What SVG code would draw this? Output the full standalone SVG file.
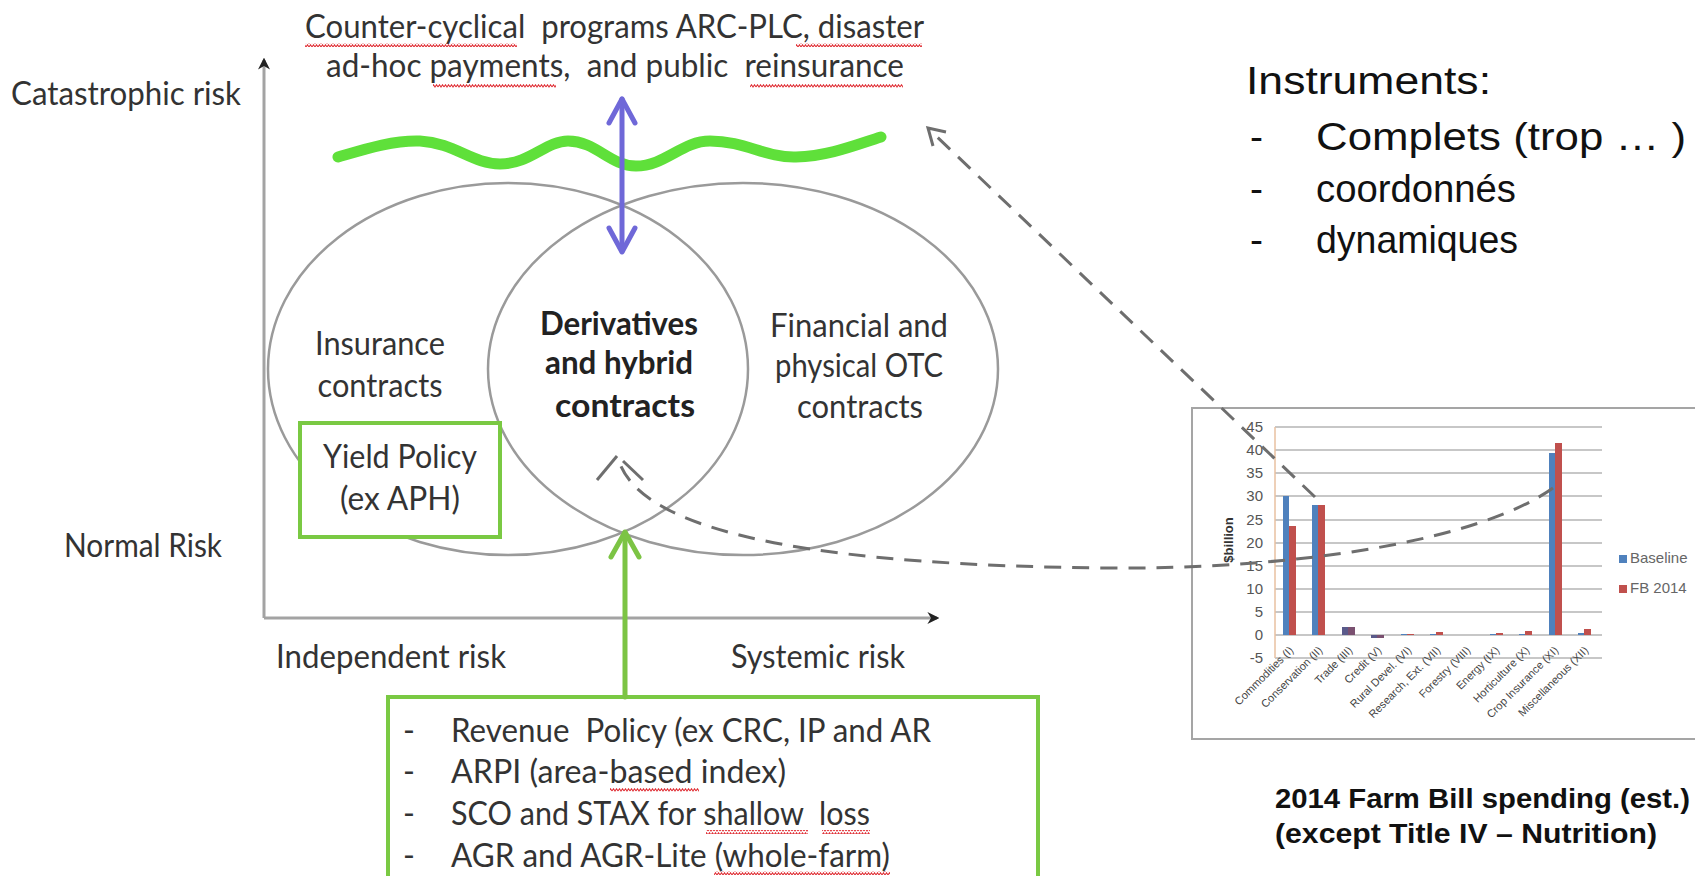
<svg xmlns="http://www.w3.org/2000/svg" width="1695" height="876" viewBox="0 0 1695 876">
<defs>
<style>
.lbl{font-family:"Lato","Carlito","Noto Sans",sans-serif;font-size:32px;fill:#333;white-space:pre}
.bold{font-weight:bold;fill:#222}
.ell{fill:none;stroke:#9a9a9a;stroke-width:2.5}
.axis{stroke:#a3a3a3;stroke-width:3;fill:none}
.gbox{fill:#fff;stroke:#7ac943;stroke-width:4}
.dash{fill:none;stroke:#6e6e6e;stroke-width:3;stroke-dasharray:17 11}
.chev{fill:none;stroke:#6e6e6e;stroke-width:3}
.ar{font-family:"Liberation Sans",Arial,sans-serif;fill:#111}
.grid{stroke:#b5b5b5;stroke-width:1.5}
.tick{font-family:"Liberation Sans",Arial,sans-serif;font-size:15px;fill:#555;text-anchor:end}
.cat{font-family:"Liberation Sans",Arial,sans-serif;font-size:11px;fill:#444;text-anchor:end}
.sq{fill:url(#squig);stroke:none}
</style>
<pattern id="squig" x="0" y="0" width="6" height="4" patternUnits="userSpaceOnUse">
<path d="M0,3 L1.5,0.8 L3,3 L4.5,0.8 L6,3" fill="none" stroke="#e0343a" stroke-width="1.1"/>
</pattern>
<marker id="ah" viewBox="0 0 10 10" refX="8" refY="5" markerWidth="4" markerHeight="4" orient="auto-start-reverse">
<path d="M0,0 L10,5 L0,10 L3,5 Z" fill="#222"/>
</marker>
</defs>
<rect width="1695" height="876" fill="#fff"/>

<g id="chart">
<rect x="1192" y="408" width="530" height="331" fill="#fff" stroke="#a5a5a5" stroke-width="2"/>
<g>
<line class="grid" x1="1275" y1="427" x2="1602" y2="427"/>
<line class="grid" x1="1275" y1="450" x2="1602" y2="450"/>
<line class="grid" x1="1275" y1="473" x2="1602" y2="473"/>
<line class="grid" x1="1275" y1="496" x2="1602" y2="496"/>
<line class="grid" x1="1275" y1="520" x2="1602" y2="520"/>
<line class="grid" x1="1275" y1="543" x2="1602" y2="543"/>
<line class="grid" x1="1275" y1="566" x2="1602" y2="566"/>
<line class="grid" x1="1275" y1="589" x2="1602" y2="589"/>
<line class="grid" x1="1275" y1="612" x2="1602" y2="612"/>
<line class="grid" x1="1275" y1="635" x2="1602" y2="635"/>
<line class="grid" x1="1275" y1="658" x2="1602" y2="658"/>
<line x1="1275" y1="427" x2="1275" y2="658" stroke="#e8c0a0" stroke-width="1.5"/>
</g>
<g>
<text class="tick" x="1263" y="432">45</text>
<text class="tick" x="1263" y="455">40</text>
<text class="tick" x="1263" y="478">35</text>
<text class="tick" x="1263" y="501">30</text>
<text class="tick" x="1263" y="525">25</text>
<text class="tick" x="1263" y="548">20</text>
<text class="tick" x="1263" y="571">15</text>
<text class="tick" x="1263" y="594">10</text>
<text class="tick" x="1263" y="617">5</text>
<text class="tick" x="1263" y="640">0</text>
<text class="tick" x="1263" y="663">-5</text>
<text x="1233" y="540" transform="rotate(-90 1233 540)" text-anchor="middle" font-family="Liberation Sans,Arial,sans-serif" font-size="13" font-weight="bold" fill="#333">$billion</text>
</g>
<g id="bars">
<rect x="1283" y="496" width="6" height="139" fill="#4f81bd"/>
<rect x="1289" y="526" width="7" height="109" fill="#c0504d"/>
<rect x="1312" y="505" width="6" height="130" fill="#4f81bd"/>
<rect x="1318" y="505" width="7" height="130" fill="#c0504d"/>
<rect x="1342" y="627" width="6" height="8" fill="#5a5a8a"/>
<rect x="1348" y="627" width="7" height="8" fill="#7a5070"/>
<rect x="1371" y="635" width="6" height="3" fill="#5a5a8a"/>
<rect x="1377" y="635" width="7" height="3" fill="#7a5070"/>
<rect x="1401" y="634" width="6" height="1" fill="#4f81bd"/>
<rect x="1407" y="634" width="7" height="1" fill="#c0504d"/>
<rect x="1430" y="634" width="6" height="1" fill="#4f81bd"/>
<rect x="1436" y="632" width="7" height="3" fill="#c0504d"/>
<rect x="1490" y="634" width="6" height="1" fill="#4f81bd"/>
<rect x="1496" y="633" width="7" height="2" fill="#c0504d"/>
<rect x="1519" y="634" width="6" height="1" fill="#4f81bd"/>
<rect x="1525" y="631" width="7" height="4" fill="#c0504d"/>
<rect x="1549" y="453" width="6" height="182" fill="#4f81bd"/>
<rect x="1555" y="443" width="7" height="192" fill="#c0504d"/>
<rect x="1578" y="633" width="6" height="2" fill="#4f81bd"/>
<rect x="1584" y="629" width="7" height="6" fill="#c0504d"/>
</g>
<g id="cats">
<text class="cat" transform="translate(1294 651) rotate(-45)">Commodities (I)</text>
<text class="cat" transform="translate(1323 651) rotate(-45)">Conservation (II)</text>
<text class="cat" transform="translate(1353 651) rotate(-45)">Trade (III)</text>
<text class="cat" transform="translate(1382 651) rotate(-45)">Credit (V)</text>
<text class="cat" transform="translate(1412 651) rotate(-45)">Rural Devel. (VI)</text>
<text class="cat" transform="translate(1441 651) rotate(-45)">Research, Ext. (VII)</text>
<text class="cat" transform="translate(1471 651) rotate(-45)">Forestry (VIII)</text>
<text class="cat" transform="translate(1500 651) rotate(-45)">Energy (IX)</text>
<text class="cat" transform="translate(1530 651) rotate(-45)">Horticulture (X)</text>
<text class="cat" transform="translate(1559 651) rotate(-45)">Crop Insurance (XI)</text>
<text class="cat" transform="translate(1589 651) rotate(-45)">Miscellaneous (XII)</text>
</g>
<g id="legend">
<rect x="1619" y="555" width="8" height="8" fill="#4f81bd"/>
<text x="1630" y="563" font-family="Liberation Sans,Arial,sans-serif" font-size="15" fill="#666">Baseline</text>
<rect x="1619" y="585" width="8" height="8" fill="#c0504d"/>
<text x="1630" y="593" font-family="Liberation Sans,Arial,sans-serif" font-size="15" fill="#666">FB 2014</text>
</g>
</g>

<g id="caption">
<text class="ar" x="1275" y="808" font-size="28" font-weight="bold" textLength="415" lengthAdjust="spacingAndGlyphs">2014 Farm Bill spending (est.)</text>
<text class="ar" x="1275" y="843" font-size="28" font-weight="bold" textLength="382" lengthAdjust="spacingAndGlyphs">(except Title IV – Nutrition)</text>
</g>

<g id="instruments">
<text class="ar" x="1246" y="94" font-size="39" textLength="245" lengthAdjust="spacingAndGlyphs">Instruments:</text>
<text class="ar" x="1250" y="150" font-size="39">-</text>
<text class="ar" x="1316" y="150" font-size="39" textLength="370" lengthAdjust="spacingAndGlyphs">Complets (trop … )</text>
<text class="ar" x="1250" y="202" font-size="39">-</text>
<text class="ar" x="1316" y="202" font-size="39" textLength="200" lengthAdjust="spacingAndGlyphs">coordonnés</text>
<text class="ar" x="1250" y="253" font-size="39">-</text>
<text class="ar" x="1316" y="253" font-size="39" textLength="202" lengthAdjust="spacingAndGlyphs">dynamiques</text>
</g>

<g id="axes">
<line class="axis" x1="264" y1="618" x2="264" y2="60" marker-end="url(#ah)"/>
<line class="axis" x1="264" y1="618" x2="937" y2="618" marker-end="url(#ah)"/>
<text class="lbl" x="11" y="105" textLength="230" lengthAdjust="spacingAndGlyphs">Catastrophic risk</text>
<text class="lbl" x="64" y="557" textLength="158" lengthAdjust="spacingAndGlyphs">Normal Risk</text>
<text class="lbl" x="276" y="668" textLength="230" lengthAdjust="spacingAndGlyphs">Independent risk</text>
<text class="lbl" x="731" y="668" textLength="174" lengthAdjust="spacingAndGlyphs">Systemic risk</text>
</g>

<g id="top-label">
<text class="lbl" x="305" y="38" textLength="619" lengthAdjust="spacingAndGlyphs">Counter-cyclical  programs ARC-PLC, disaster</text>
<text class="lbl" x="326" y="77" textLength="578" lengthAdjust="spacingAndGlyphs">ad-hoc payments,  and public  reinsurance</text>
<rect class="sq" x="305" y="43" width="212" height="4"/>
<rect class="sq" x="796" y="43" width="126" height="4"/>
<rect class="sq" x="433" y="84" width="123" height="4"/>
<rect class="sq" x="750" y="84" width="153" height="4"/>
</g>

<g id="threshold">
<path d="M338,157 C362,150 392,140 420,141 C455,143 472,164 500,164 C530,164 546,141 568,141 C596,141 610,166 636,166 C665,166 682,141 710,141 C745,141 766,158 796,157 C830,156 858,144 881,137" fill="none" stroke="#5fe03a" stroke-width="11" stroke-linecap="round"/>
</g>

<g id="venn">
<ellipse id="insurance" class="ell" cx="508" cy="369" rx="240" ry="186"/>
<ellipse id="otc" class="ell" cx="743" cy="369" rx="255" ry="186"/>
</g>

<g id="insurance-label">
<text class="lbl" x="380" y="355" text-anchor="middle" textLength="130" lengthAdjust="spacingAndGlyphs">Insurance</text>
<text class="lbl" x="380" y="397" text-anchor="middle" textLength="125" lengthAdjust="spacingAndGlyphs">contracts</text>
</g>
<g id="derivatives-label">
<text class="lbl bold" x="619" y="335" text-anchor="middle" textLength="158" lengthAdjust="spacingAndGlyphs">Derivatives</text>
<text class="lbl bold" x="619" y="374" text-anchor="middle" textLength="148" lengthAdjust="spacingAndGlyphs">and hybrid</text>
<text class="lbl bold" x="625" y="417" text-anchor="middle" textLength="140" lengthAdjust="spacingAndGlyphs">contracts</text>
</g>
<g id="otc-label">
<text class="lbl" x="859" y="337" text-anchor="middle" textLength="178" lengthAdjust="spacingAndGlyphs">Financial and</text>
<text class="lbl" x="859" y="377" text-anchor="middle" textLength="168" lengthAdjust="spacingAndGlyphs">physical OTC</text>
<text class="lbl" x="860" y="418" text-anchor="middle" textLength="126" lengthAdjust="spacingAndGlyphs">contracts</text>
</g>

<g id="yield-policy">
<rect class="gbox" x="300" y="423" width="200" height="114"/>
<text class="lbl" x="400" y="468" text-anchor="middle" textLength="154" lengthAdjust="spacingAndGlyphs">Yield Policy</text>
<text class="lbl" x="400" y="510" text-anchor="middle" textLength="120" lengthAdjust="spacingAndGlyphs">(ex APH)</text>
</g>

<g id="revenue-box">
<rect class="gbox" x="388" y="697" width="650" height="190"/>
<text class="lbl" x="403" y="742">-</text>
<text class="lbl" x="451" y="742" textLength="480" lengthAdjust="spacingAndGlyphs">Revenue  Policy (ex CRC, IP and AR</text>
<text class="lbl" x="403" y="783">-</text>
<text class="lbl" x="451" y="783" textLength="335" lengthAdjust="spacingAndGlyphs">ARPI (area-based index)</text>
<text class="lbl" x="403" y="825">-</text>
<text class="lbl" x="451" y="825" textLength="419" lengthAdjust="spacingAndGlyphs">SCO and STAX for shallow  loss</text>
<text class="lbl" x="403" y="867">-</text>
<text class="lbl" x="451" y="867" textLength="439" lengthAdjust="spacingAndGlyphs">AGR and AGR-Lite (whole-farm)</text>
<rect class="sq" x="610" y="788" width="89" height="4"/>
<rect class="sq" x="706" y="830" width="102" height="4"/>
<rect class="sq" x="822" y="830" width="48" height="4"/>
<rect class="sq" x="714" y="871" width="176" height="4"/>
</g>

<g id="connectors">
<g id="blue-arrow" stroke="#6f68d8" stroke-width="5" fill="none" stroke-linecap="round" stroke-linejoin="round">
<line x1="622" y1="99" x2="622" y2="251"/>
<polyline points="609,123 622,99 635,123"/>
<polyline points="609,228 622,252 635,228"/>
</g>
<g id="green-arrow" stroke="#7cc444" stroke-width="5" fill="none" stroke-linecap="round" stroke-linejoin="round">
<line x1="625" y1="533" x2="625" y2="697"/>
<polyline points="611,557 625,532 639,557"/>
</g>
<g id="dashed-curve">
<path class="dash" d="M1553,488 C1480,540 1300,570 1100,568 C850,565 640,540 618,458"/>
<polyline class="chev" points="597,480 617,456"/>
<polyline class="chev" points="623,461 643,480"/>
</g>
<g id="dashed-straight">
<line class="dash" x1="1315" y1="497" x2="934" y2="134"/>
<polyline class="chev" points="933,146 928,128 946,132"/>
</g>
</g>
</svg>
